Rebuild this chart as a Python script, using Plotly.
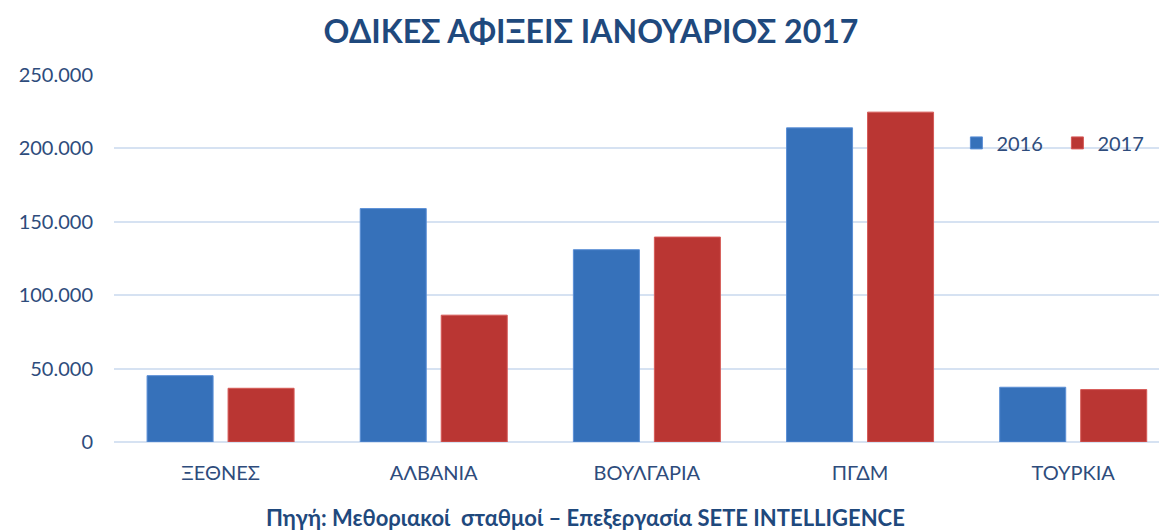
import plotly.graph_objects as go

categories = ["ΞΕΘΝΕΣ", "ΑΛΒΑΝΙΑ", "ΒΟΥΛΓΑΡΙΑ", "ΠΓΔΜ", "ΤΟΥΡΚΙΑ"]
values_2016 = [45200, 159000, 131000, 214000, 37300]
values_2017 = [36600, 86400, 139600, 224700, 35700]
y_ticks = [0, 50000, 100000, 150000, 200000, 250000]

FONT = "Lato"
DARK = "#1F497D"
TXT = "#2E4C7C"

fig = go.Figure()
fig.add_trace(go.Bar(name="2016", x=categories, y=values_2016,
                     marker=dict(color="#3671BA", line=dict(color="#5B8FD6", width=1))))
fig.add_trace(go.Bar(name="2017", x=categories, y=values_2017,
                     marker=dict(color="#BA3633", line=dict(color="#D65A57", width=1))))

fig.update_layout(
    width=1159, height=522,
    paper_bgcolor="white", plot_bgcolor="white",
    separators=",.",
    barmode="group", bargap=0.24, bargroupgap=0.185,
    margin=dict(l=106, r=0, t=67, b=88),
    font=dict(family=FONT, color=TXT),
    title=dict(text="<b>ΟΔΙΚΕΣ ΑΦΙΞΕΙΣ ΙΑΝΟΥΑΡΙΟΣ 2017</b>",
               x=0.503, xanchor="center", y=0.954, yanchor="middle",
               font=dict(family=FONT, size=32, color=DARK)),
    legend=dict(orientation="h", x=0.80, xanchor="left", y=0.815, yanchor="middle",
                font=dict(family=FONT, size=20, color=TXT), bgcolor="rgba(0,0,0,0)",
                itemwidth=30, traceorder="normal", entrywidth=56),
    xaxis=dict(range=[-0.5, 4.44], showgrid=False, showline=False, ticks="",
               ticklabelstandoff=17,
               tickfont=dict(family=FONT, size=20, color=TXT)),
    yaxis=dict(range=[0, 250000], tickvals=y_ticks, tickformat=",d",
               showgrid=True, gridcolor="#D6E2F2", gridwidth=2,
               zeroline=True, zerolinecolor="#D6E2F2", zerolinewidth=2,
               ticks="", ticklabelstandoff=20,
               tickfont=dict(family=FONT, size=20, color=TXT)),
    annotations=[dict(text="<b>Πηγή: Μεθοριακοί  σταθμοί – Επεξεργασία SETE INTELLIGENCE</b>",
                      xref="paper", yref="paper", x=0.448, y=-0.207,
                      xanchor="center", yanchor="middle", showarrow=False,
                      font=dict(family=FONT, size=22, color=DARK))],
)
fig.write_html("out.html")
